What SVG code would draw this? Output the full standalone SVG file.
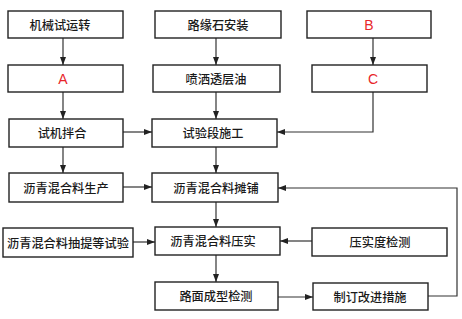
<svg xmlns="http://www.w3.org/2000/svg" width="462" height="319" viewBox="0 0 462 319">
<defs>
<marker id="ah" viewBox="0 0 8 6" refX="8" refY="3" markerWidth="8" markerHeight="6" markerUnits="userSpaceOnUse" orient="auto">
<path d="M0,0 L8,3 L0,6 Z" fill="#222"/>
</marker>
<style>
.box{fill:#fff;stroke:#222;stroke-width:1.4}
.t{font-family:"Noto Sans CJK SC","Noto Sans",sans-serif;font-size:12.2px;font-weight:500;fill:#1a1a1a;text-anchor:middle;dominant-baseline:central}
.r{font-family:"Liberation Sans","DejaVu Sans",sans-serif;font-size:14px;fill:#e8262a;text-anchor:middle;dominant-baseline:central}
.c{fill:none;stroke:#333;stroke-width:1.2}
</style>
</defs>
<rect width="462" height="319" fill="#fff"/>
<g id="connectors">
<line class="c" x1="63" y1="38" x2="63" y2="65" marker-end="url(#ah)"/>
<line class="c" x1="63" y1="92" x2="63" y2="119" marker-end="url(#ah)"/>
<line class="c" x1="63" y1="147" x2="63" y2="173" marker-end="url(#ah)"/>
<line class="c" x1="123" y1="132" x2="152" y2="132" marker-end="url(#ah)"/>
<line class="c" x1="123" y1="187" x2="152" y2="187" marker-end="url(#ah)"/>
<line class="c" x1="133" y1="242" x2="155" y2="242" marker-end="url(#ah)"/>
<line class="c" x1="216" y1="38" x2="216" y2="65" marker-end="url(#ah)"/>
<line class="c" x1="216" y1="92" x2="216" y2="119" marker-end="url(#ah)"/>
<line class="c" x1="216" y1="147" x2="216" y2="173" marker-end="url(#ah)"/>
<line class="c" x1="216" y1="202" x2="216" y2="227" marker-end="url(#ah)"/>
<line class="c" x1="216" y1="255" x2="216" y2="282" marker-end="url(#ah)"/>
<line class="c" x1="373" y1="38" x2="373" y2="65" marker-end="url(#ah)"/>
<polyline class="c" points="373,92 373,132 277,132" marker-end="url(#ah)"/>
<line class="c" x1="312" y1="241" x2="280" y2="241" marker-end="url(#ah)"/>
<line class="c" x1="278" y1="297" x2="313" y2="297" marker-end="url(#ah)"/>
<polyline class="c" points="428,296 457,296 457,188 278,188" marker-end="url(#ah)"/>
</g>
<g id="n1"><rect class="box" x="8" y="11" width="115" height="27"/><text class="t" x="60" y="24.5">机械试运转</text></g>
<g id="nA"><rect class="box" x="8" y="65" width="115" height="27"/><text class="r" x="63" y="78.5">A</text></g>
<g id="n2"><rect class="box" x="155" y="11" width="126" height="27"/><text class="t" x="218" y="24.5">路缘石安装</text></g>
<g id="n3"><rect class="box" x="153" y="65" width="127" height="27"/><text class="t" x="216" y="78.5">喷洒透层油</text></g>
<g id="nB"><rect class="box" x="307" y="11" width="124" height="27"/><text class="r" x="369" y="24.5">B</text></g>
<g id="nC"><rect class="box" x="312" y="65" width="115" height="27"/><text class="r" x="373" y="78.5">C</text></g>
<g id="n4"><rect class="box" x="9" y="119" width="114" height="28"/><text class="t" x="62" y="133">试机拌合</text></g>
<g id="n5"><rect class="box" x="152" y="119" width="125" height="28"/><text class="t" x="213" y="133">试验段施工</text></g>
<g id="n6"><rect class="box" x="9" y="173" width="114" height="29"/><text class="t" x="66" y="187.5">沥青混合料生产</text></g>
<g id="n7"><rect class="box" x="152" y="173" width="126" height="29"/><text class="t" x="216" y="187.5">沥青混合料摊铺</text></g>
<g id="n8"><rect class="box" x="3" y="228" width="130" height="29"/><text class="t" x="68" y="242.5">沥青混合料抽提等试验</text></g>
<g id="n9"><rect class="box" x="155" y="227" width="125" height="28"/><text class="t" x="213" y="241">沥青混合料压实</text></g>
<g id="n10"><rect class="box" x="312" y="228" width="135" height="28"/><text class="t" x="380" y="242">压实度检测</text></g>
<g id="n11"><rect class="box" x="155" y="282" width="123" height="28"/><text class="t" x="216" y="296">路面成型检测</text></g>
<g id="n12"><rect class="box" x="313" y="283" width="115" height="27"/><text class="t" x="370" y="296.5">制订改进措施</text></g>
</svg>
